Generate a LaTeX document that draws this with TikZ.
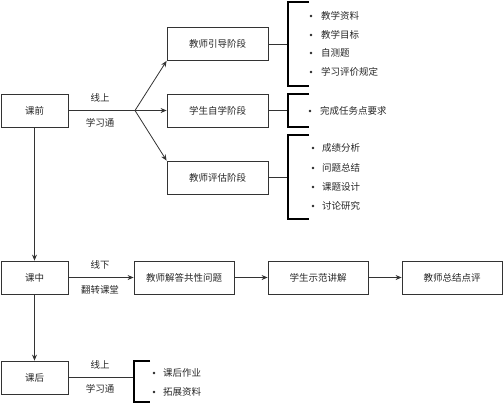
\documentclass[tikz,border=0pt]{standalone}
\usepackage{fontspec}
\setmainfont{Noto Sans CJK SC}
\usetikzlibrary{arrows.meta}
\begin{document}
\begin{tikzpicture}[x=1pt,y=-1pt,
  every node/.style={font=\fontsize{9.5}{11}\selectfont, text=black!85},
  box/.style={draw=black!80, line width=0.8pt, rectangle, inner sep=0pt, minimum height=33pt},
  lbl/.style={inner sep=0pt},
  item/.style={inner sep=0pt, anchor=west},
  conn/.style={draw=black!80, line width=0.8pt},
  arr/.style={conn, -{Stealth[length=6pt,width=5pt]}},
  brk/.style={draw=black, line width=1.3pt},
]
\useasboundingbox (0,0) rectangle (504,405);
% left column
\node[box, minimum width=67pt] (pre) at (34.5,110.5) {课前};
\node[box, minimum width=67pt] (mid) at (34.5,277.5) {课中};
\node[box, minimum width=67pt] (post) at (34.5,377.5) {课后};
% pre stage boxes
\node[box, minimum width=101pt] (t1) at (217.5,44) {教师引导阶段};
\node[box, minimum width=101pt] (t2) at (217.5,110.5) {学生自学阶段};
\node[box, minimum width=101pt] (t3) at (217.5,177.5) {教师评估阶段};
% mid stage boxes
\node[box, minimum width=100pt] (m1) at (184,277.5) {教师解答共性问题};
\node[box, minimum width=100pt] (m2) at (318,277.5) {学生示范讲解};
\node[box, minimum width=100pt] (m3) at (452,277.5) {教师总结点评};
% labels
\node[lbl] (l1a) at (100,98) {线上};
\node[lbl] (l1b) at (100,123) {学习通};
\node[lbl] (l2a) at (100,265) {线下};
\node[lbl] (l2b) at (100,290) {翻转课堂};
\node[lbl] (l3a) at (100,365) {线上};
\node[lbl] (l3b) at (100,389) {学习通};
% connectors
\coordinate (split) at (135,110.5);
\draw[conn] (pre.east) -- (split);
\draw[arr] (split) -- (t1.south west);
\draw[arr] (split) -- (t2.west);
\draw[arr] (split) -- (t3.north west);
\draw[arr] (pre.south) -- (mid.north);
\draw[arr] (mid.south) -- (post.north);
\draw[arr] (mid.east) -- (m1.west);
\draw[arr] (m1.east) -- (m2.west);
\draw[arr] (m2.east) -- (m3.west);
% brackets
\coordinate (b1) at (288,44);
\coordinate (b2) at (288,110.5);
\coordinate (b3) at (288,177.5);
\coordinate (b4) at (134,377.5);
\draw[conn] (t1.east) -- (b1);
\draw[conn] (t2.east) -- (b2);
\draw[conn] (t3.east) -- (b3);
\draw[conn] (post.east) -- (b4);
\draw[brk] (309,2) -- (288,2) -- (288,86) -- (309,86);
\draw[brk] (309,94) -- (288,94) -- (288,127) -- (309,127);
\draw[brk] (309,135) -- (288,135) -- (288,219) -- (309,219);
\draw[brk] (150,361) -- (134,361) -- (134,402) -- (150,402);
% items
\tikzset{bul/.style={fill=black!85}}
\node[item] (i1) at (321,16) {教学资料};
\node[item] (i2) at (321,35) {教学目标};
\node[item] (i3) at (321,53) {自测题};
\node[item] (i4) at (321,72) {学习评价规定};
\node[item] (i5) at (320,111) {完成任务点要求};
\node[item] (i6) at (322,148) {成绩分析};
\node[item] (i7) at (322,168) {问题总结};
\node[item] (i8) at (322,187) {课题设计};
\node[item] (i9) at (322,206) {讨论研究};
\node[item] (i10) at (163,373) {课后作业};
\node[item] (i11) at (163,392) {拓展资料};
\foreach \n/\x/\y in {i1/311/16,i2/311/35,i3/311/53,i4/311/72,i5/310/111,i6/313/148,i7/313/168,i8/313/187,i9/313/206,i10/154/373,i11/154/392}
  \fill[bul] (\x,\y) circle (1.4);
\end{tikzpicture}
\end{document}
